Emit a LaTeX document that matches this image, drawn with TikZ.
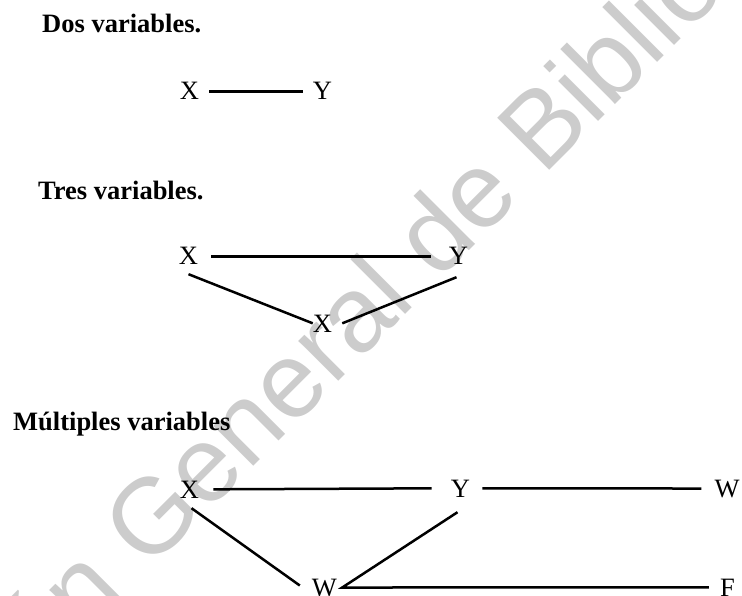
\documentclass[tikz,border=0pt]{standalone}
\usepackage{fontspec}
\setmainfont{Liberation Serif}
\newfontfamily\marcafont{Liberation Sans}
\begin{document}
\begin{tikzpicture}[x=1pt,y=-1pt,
    var/.style={inner sep=0pt,anchor=base,font=\fontsize{26.5}{30}\selectfont},
    titulo/.style={inner sep=0pt,anchor=base west,font=\fontsize{26.5}{30}\selectfont\bfseries},
    liga/.style={line width=2.5pt},
    marca/.style={black!20,inner sep=0pt,anchor=base west,rotate=45,font=\fontsize{107}{110}\selectfont\marcafont}]
  \useasboundingbox (0,0) rectangle (742,596);
  \begin{scope}
    \clip (0,0) rectangle (742,596);
    \node[marca] (marca) at (148,572) {\llap{Dirección }General de Bibliotecas};
  \end{scope}
  % dos variables
  \node[titulo] (dos) at (42,33) {Dos variables.};
  \node[var] (x1) at (189.5,100) {X};
  \node[var] (y1) at (322.5,100) {Y};
  \draw[liga] ([xshift=10pt]x1.east) -- ([xshift=-10pt]y1.west);
  % tres variables
  \node[titulo] (tres) at (38,200) {Tres variables.};
  \node[var] (x2) at (188.5,265) {X};
  \node[var] (y2) at (458.5,265) {Y};
  \node[var] (x3) at (322.5,332) {X};
  \draw[liga] ([xshift=13pt]x2.east) -- ([xshift=-18pt]y2.west);
  \draw[liga] ([yshift=-9pt]x2.south) -- (x3.west);
  \draw[liga] ([xshift=10pt]x3.east) -- ([shift={(-2pt,-12pt)}]y2.south);
  % multiples variables
  \node[titulo] (mult) at (13,430) {Múltiples variables};
  \node[var] (x4) at (189.5,498) {X};
  \node[var] (y4) at (460.5,497) {Y};
  \node[var] (w1) at (727,497) {W};
  \node[var] (w2) at (324.5,596) {W};
  \node[var] (f1) at (727.4,596) {F};
  \draw[liga] ([xshift=14pt]x4.east) -- ([xshift=-19pt]y4.west);
  \draw[liga] ([xshift=12pt]y4.east) -- ([xshift=-13pt]w1.west);
  \draw[liga] ([shift={(2pt,-10pt)}]x4.south) -- ([shift={(-12pt,2pt)}]w2.west);
  \draw[liga] ([shift={(-3pt,-15pt)}]y4.south) -- ([xshift=5pt]w2.east) -- ([xshift=-11pt]f1.west);
\end{tikzpicture}
\end{document}
